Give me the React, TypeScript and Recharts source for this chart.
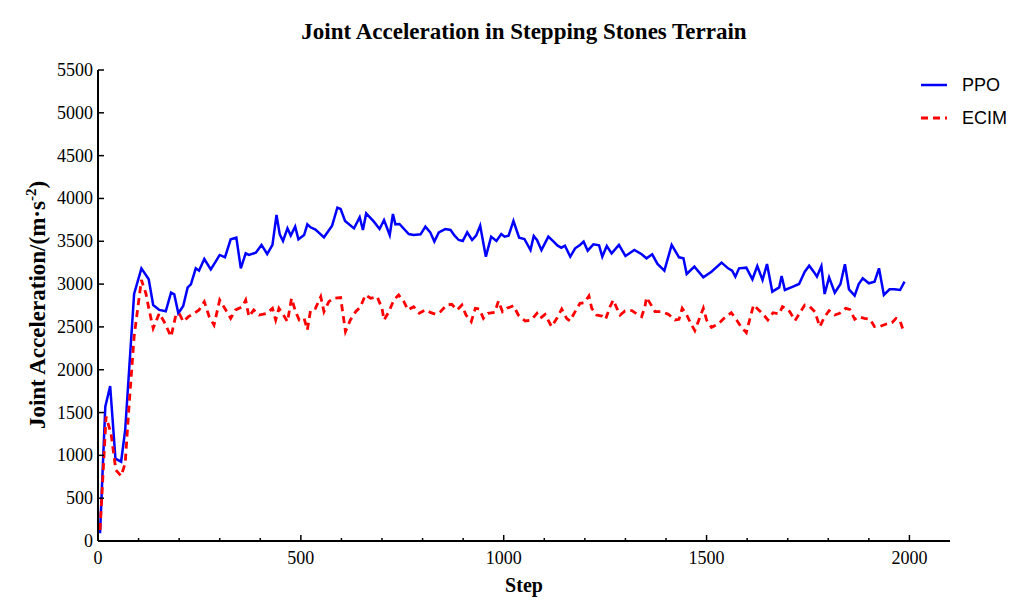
import React from "react";
import { LineChart, Line, XAxis, YAxis, Label } from "recharts";

const ppoSteps = [5, 18, 30, 43, 57, 67, 89, 107, 125, 136, 151, 167, 180, 188, 198, 210, 221, 229, 241, 249, 262, 278, 290, 300, 313, 327, 341, 352, 364, 372, 389,
  403, 417, 430, 440, 448, 456, 467, 475, 486, 494, 508, 516, 524, 536, 557, 577, 590, 598, 609, 631, 645, 653, 661, 680, 694, 705, 719, 727, 733, 743, 766, 778,
  795, 807, 819, 829, 840, 856, 869, 879, 889, 899, 910, 922, 932, 942, 956, 969, 982, 994, 1002, 1012, 1024, 1038, 1051, 1066, 1074, 1082, 1093, 1110, 1123, 1133, 1142, 1151, 1164, 1176, 1188,
  1197, 1207, 1221, 1235, 1243, 1254, 1266, 1284, 1300, 1322, 1340, 1352, 1366, 1379, 1396, 1414, 1432, 1443, 1451, 1470, 1492, 1512, 1537, 1553, 1563, 1571, 1580,
  1598, 1613, 1625, 1638, 1649, 1662, 1679, 1685, 1693, 1713, 1728, 1742, 1753, 1764, 1772, 1783, 1791, 1802, 1816, 1830, 1841, 1851, 1865, 1875, 1885, 1900, 1914, 1925, 1937, 1951, 1963, 1977, 1988];

const ppoValues = [90, 1569, 1810, 961, 926, 1296, 2884, 3184, 3056, 2756, 2698, 2682, 2900, 2880, 2659, 2744, 2962, 2997, 3184, 3157, 3293, 3172, 3262, 3340, 3313, 3523, 3542, 3184, 3359, 3340, 3367,
  3457, 3351, 3457, 3807, 3581, 3503, 3651, 3566, 3671, 3523, 3573, 3698, 3663, 3636, 3546, 3682, 3893, 3877, 3737, 3651, 3780, 3632, 3826, 3729, 3643, 3748, 3573, 3819, 3698, 3702, 3585, 3573,
  3581, 3671, 3604, 3496, 3604, 3643, 3632, 3566, 3515, 3503, 3604, 3515, 3566, 3682, 3320, 3554, 3503, 3585, 3554, 3566, 3737, 3542, 3527, 3398, 3562, 3515, 3398, 3554, 3496, 3449, 3425, 3449, 3320, 3418, 3457,
  3496, 3390, 3464, 3453, 3320, 3445, 3359, 3457, 3328, 3398, 3348, 3301, 3348, 3235, 3157, 3457, 3313, 3301, 3118, 3204, 3079, 3145, 3250, 3184, 3157, 3087, 3184,
  3192, 3056, 3211, 3048, 3235, 2912, 2962, 3095, 2931, 2970, 3001, 3145, 3215, 3145, 3087, 3211, 2884, 3079, 2900, 3001, 3231, 2939, 2865, 3001, 3067, 3009, 3028, 3184, 2873, 2939, 2939, 2931, 3028];

const ecimSteps = [5, 20, 32, 44, 57, 67, 77, 89, 107, 118, 126, 136, 151, 163, 180, 192, 200, 210, 223, 237, 249, 262, 274, 286, 300, 315, 327, 339, 356, 364, 372, 384, 397,
  417, 430, 438, 446, 456, 467, 477, 487, 496, 508, 516, 524, 536, 549, 557, 569, 581, 598, 603, 610, 622, 635, 647, 659, 672, 688, 700, 705, 717, 729, 741, 754, 764, 778, 792,
  807, 819, 832, 844, 860, 872, 885, 897, 907, 920, 930, 940, 950, 961, 978, 987, 997, 1008, 1024, 1036, 1053, 1068, 1082, 1090, 1102, 1118, 1131, 1143, 1155, 1163, 1176, 1188,
  1199, 1210, 1217, 1229, 1242, 1251, 1262, 1270, 1279, 1287, 1299, 1316, 1328, 1340, 1348, 1352, 1361, 1373, 1389, 1406, 1422, 1432, 1440, 1451, 1461, 1471, 1481, 1492, 1500, 1512, 1529, 1543, 1561, 1574, 1586,
  1598, 1606, 1616, 1633, 1643, 1651, 1664, 1679, 1687, 1699, 1705, 1718, 1730, 1742, 1753, 1767, 1779, 1791, 1802, 1816, 1828, 1843, 1853, 1865, 1875, 1889, 1903, 1914, 1926, 1943, 1957, 1967, 1976, 1984];

const ecimValues = [128, 1452, 1257, 829, 759, 907, 1608, 2386, 3048, 2892, 2698, 2483, 2659, 2561, 2386, 2639, 2659, 2561, 2620, 2659, 2698, 2795, 2620, 2522, 2814, 2698, 2600, 2698, 2736, 2814, 2620, 2698, 2639,
  2659, 2717, 2581, 2717, 2647, 2561, 2834, 2678, 2581, 2600, 2464, 2698, 2717, 2853, 2678, 2795, 2834, 2842, 2678, 2445, 2581, 2678, 2736, 2873, 2834, 2853, 2717, 2581, 2678, 2814, 2873, 2795, 2698, 2736, 2659,
  2698, 2670, 2647, 2678, 2756, 2764, 2698, 2756, 2639, 2561, 2717, 2709, 2600, 2659, 2670, 2803, 2678, 2717, 2748, 2639, 2569, 2581, 2659, 2600, 2647, 2503, 2600, 2709, 2600, 2569, 2678, 2775,
  2783, 2861, 2717, 2639, 2627, 2589, 2736, 2814, 2717, 2639, 2686, 2690, 2651, 2620, 2736, 2845, 2775, 2678, 2678, 2647, 2581, 2589, 2717, 2639, 2542, 2456, 2581, 2717, 2581, 2495, 2534, 2600, 2666, 2581, 2495,
  2433, 2581, 2756, 2678, 2627, 2581, 2666, 2651, 2736, 2705, 2678, 2573, 2666, 2756, 2744, 2678, 2503, 2620, 2690, 2639, 2659, 2717, 2705, 2589, 2620, 2600, 2589, 2503, 2503, 2534, 2550, 2600, 2581, 2472];

const xTicks = Array.from({ length: 21 }, (_, i) => i * 100);
const yTicks = [0, 500, 1000, 1500, 2000, 2500, 3000, 3500, 4000, 4500, 5000, 5500];

const ppoData = ppoSteps.map((s, i) => ({ step: s, value: ppoValues[i] }));
const ecimData = ecimSteps.map((s, i) => ({ step: s, value: ecimValues[i] }));

const SERIF = "'Liberation Serif', 'Times New Roman', serif";
const SANS = "'Liberation Sans', Arial, sans-serif";

const XTick = (props: any) => {
  const { x, y, payload } = props;
  const v = payload.value;
  const major = v % 500 === 0;
  return (
    <g>
      <line x1={x} x2={x} y1={y} y2={y - (major ? 6 : 3)} stroke="#000" strokeWidth={1.5} />
      {major && (
        <text x={x} y={y + 23} textAnchor="middle" fontFamily={SERIF} fontSize={18} fill="#000">
          {v}
        </text>
      )}
    </g>
  );
};

const YTick = (props: any) => {
  const { x, y, payload } = props;
  return (
    <g>
      <line x1={x} x2={x + 6} y1={y} y2={y} stroke="#000" strokeWidth={1.5} />
      <text x={x - 5} y={y + 6} textAnchor="end" fontFamily={SERIF} fontSize={18} fill="#000">
        {payload.value}
      </text>
    </g>
  );
};

const YLabel = () => (
  <text
    x={45}
    y={305}
    transform="rotate(-90, 45, 305)"
    textAnchor="middle"
    fontFamily={SERIF}
    fontWeight="bold"
    fontSize={23}
    fill="#000"
  >
    Joint Acceleration/(m·s
    <tspan dy={-9} fontSize={15}>-2</tspan>
    <tspan dy={9}>)</tspan>
  </text>
);

const XLabel = () => (
  <text x={524} y={592} textAnchor="middle" fontFamily={SERIF} fontWeight="bold" fontSize={20} fill="#000">
    Step
  </text>
);

export default function App() {
  return (
    <div style={{ position: "absolute", left: 0, top: 0, width: 1027, height: 614, background: "#fff" }}>
      <LineChart width={1027} height={614} margin={{ top: 70, right: 77, bottom: 0, left: 0 }}>
        <XAxis
          dataKey="step"
          type="number"
          domain={[0, 2100]}
          ticks={xTicks}
          interval={0}
          tickSize={0}
          tickMargin={0}
          tickLine={false}
          tick={<XTick />}
          height={73}
          axisLine={{ stroke: "#000", strokeWidth: 2 }}
          allowDuplicatedCategory={false}
        >
          <Label content={<XLabel />} />
        </XAxis>
        <YAxis
          type="number"
          domain={[0, 5500]}
          ticks={yTicks}
          interval={0}
          tickSize={0}
          tickMargin={0}
          tickLine={false}
          tick={<YTick />}
          width={98}
          axisLine={{ stroke: "#000", strokeWidth: 2 }}
        >
          <Label content={<YLabel />} />
        </YAxis>
        <Line
          data={ppoData}
          dataKey="value"
          name="PPO"
          type="linear"
          stroke="#0000ff"
          strokeWidth={2.5}
          dot={false}
          isAnimationActive={false}
        />
        <Line
          data={ecimData}
          dataKey="value"
          name="ECIM"
          type="linear"
          stroke="#ff0000"
          strokeWidth={2.8}
          strokeDasharray="7 5"
          dot={false}
          isAnimationActive={false}
        />
      </LineChart>
      <svg width={1027} height={614} style={{ position: "absolute", left: 0, top: 0, pointerEvents: "none" }}>
        <text x={524} y={39} textAnchor="middle" fontFamily={SERIF} fontWeight="bold" fontSize={23} fill="#000">
          Joint Acceleration in Stepping Stones Terrain
        </text>
        <line x1={921} x2={947} y1={85} y2={85} stroke="#0000ff" strokeWidth={2.5} />
        <text x={962} y={91} fontFamily={SANS} fontSize={18} fill="#000">PPO</text>
        <line x1={921} x2={947} y1={118} y2={118} stroke="#ff0000" strokeWidth={2.8} strokeDasharray="7 5" />
        <text x={962} y={124} fontFamily={SANS} fontSize={18} fill="#000">ECIM</text>
      </svg>
    </div>
  );
}
